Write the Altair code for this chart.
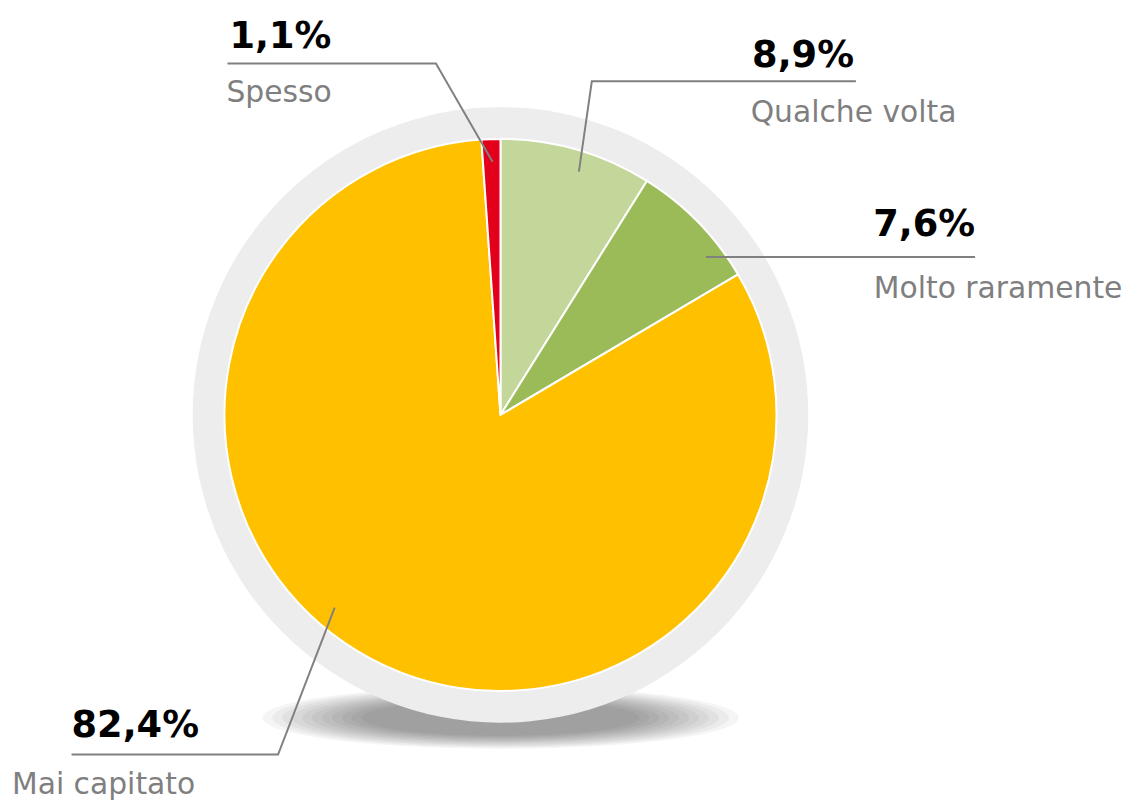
import altair as alt
import pandas as pd

# ---- data ----
categories = ["Qualche volta", "Molto raramente", "Mai capitato", "Spesso"]
values = [8.9, 7.6, 82.4, 1.1]
colors = ["#c4d79b", "#9bbb59", "#ffc000", "#e2001a"]

# ---- layout (view pixel coordinates) ----
W, H = 1124, 796
DX = 4
CX, CY = 492 + DX, 407
R_PIE, R_RING = 278, 310

leader = {
    "Qualche volta": [(571, 162), (584, 71), (850, 71)],
    "Molto raramente": [(699, 248), (699, 248), (970, 248)],
    "Mai capitato": [(325, 601), (268, 749), (60, 749)],
    "Spesso": [(484, 152), (427, 53), (217, 53)],
}
pct_pos = {
    "Qualche volta": (848, 57, "right"),
    "Molto raramente": (970, 227, "right"),
    "Mai capitato": (60, 731, "left"),
    "Spesso": (219, 37, "left"),
}
name_pos = {
    "Qualche volta": (744, 112),
    "Molto raramente": (868, 289),
    "Mai capitato": (0, 789),
    "Spesso": (216, 92),
}

FONT = "DejaVu Sans"
GRAY = "#7f7f7f"

pie_df = pd.DataFrame({
    "cat": categories,
    "val": values,
    "ord": list(range(len(categories))),
})

xs = alt.Scale(domain=[0, W], range=[0, W])
ys = alt.Scale(domain=[0, H], range=[0, H])

# shadow (stacked soft ellipses)
ell = "M-1,0A1,0.13,0,1,0,1,0A1,0.13,0,1,0,-1,0Z"
shadow_layers = []
for w in [240, 230, 220, 210, 200, 190, 180, 170, 160, 150, 140]:
    shadow_layers.append(
        alt.Chart(pd.DataFrame({"a": [0]})).mark_point(
            shape=ell, filled=True, color="#000000", opacity=0.04, size=(2 * w) ** 2
        ).encode(x=alt.value(CX), y=alt.value(CY + 305))
    )

ring = alt.Chart(pd.DataFrame({"v": [1]})).mark_arc(
    outerRadius=R_RING, color="#ededed"
).encode(theta=alt.value(0), theta2=alt.value(6.2832), x=alt.value(CX), y=alt.value(CY))

pie = alt.Chart(pie_df).mark_arc(
    outerRadius=R_PIE, stroke="white", strokeWidth=2
).encode(
    theta=alt.Theta("val:Q", stack=True),
    order=alt.Order("ord:Q"),
    color=alt.Color("cat:N", scale=alt.Scale(domain=categories, range=colors), legend=None),
    x=alt.value(CX), y=alt.value(CY),
)

line_rows = []
for c in categories:
    for i, (px, py) in enumerate(leader[c]):
        line_rows.append({"cat": c, "i": i, "px": px + DX, "py": py})
lines = alt.Chart(pd.DataFrame(line_rows)).mark_line(
    color="#808080", strokeWidth=2
).encode(
    x=alt.X("px:Q", scale=xs, axis=None),
    y=alt.Y("py:Q", scale=ys, axis=None),
    detail="cat:N",
    order="i:Q",
)

def fmt(v):
    return f"{v:.1f}".replace(".", ",") + "%"

pct_rows = [{"cat": c, "t": fmt(v), "px": pct_pos[c][0] + DX, "py": pct_pos[c][1], "al": pct_pos[c][2]}
            for c, v in zip(categories, values)]
pct_df = pd.DataFrame(pct_rows)

pct_left = alt.Chart(pct_df[pct_df.al == "left"]).mark_text(
    align="left", baseline="alphabetic", font=FONT, fontSize=37, fontWeight="bold", color="#000000"
).encode(x=alt.X("px:Q", scale=xs, axis=None), y=alt.Y("py:Q", scale=ys, axis=None), text="t:N")

pct_right = alt.Chart(pct_df[pct_df.al == "right"]).mark_text(
    align="right", baseline="alphabetic", font=FONT, fontSize=37, fontWeight="bold", color="#000000"
).encode(x=alt.X("px:Q", scale=xs, axis=None), y=alt.Y("py:Q", scale=ys, axis=None), text="t:N")

name_df = pd.DataFrame([{"cat": c, "px": name_pos[c][0] + DX, "py": name_pos[c][1]} for c in categories])
names = alt.Chart(name_df).mark_text(
    align="left", baseline="alphabetic", font=FONT, fontSize=30, color=GRAY
).encode(x=alt.X("px:Q", scale=xs, axis=None), y=alt.Y("py:Q", scale=ys, axis=None), text="cat:N")

chart = alt.layer(
    *shadow_layers, ring, pie, lines, pct_left, pct_right, names
).properties(
    width=W, height=H,
    padding=0,
    autosize=alt.AutoSizeParams(type="none"),
).configure_view(stroke=None)

chart.save("out.html", embed_options={"renderer": "svg", "actions": False})
